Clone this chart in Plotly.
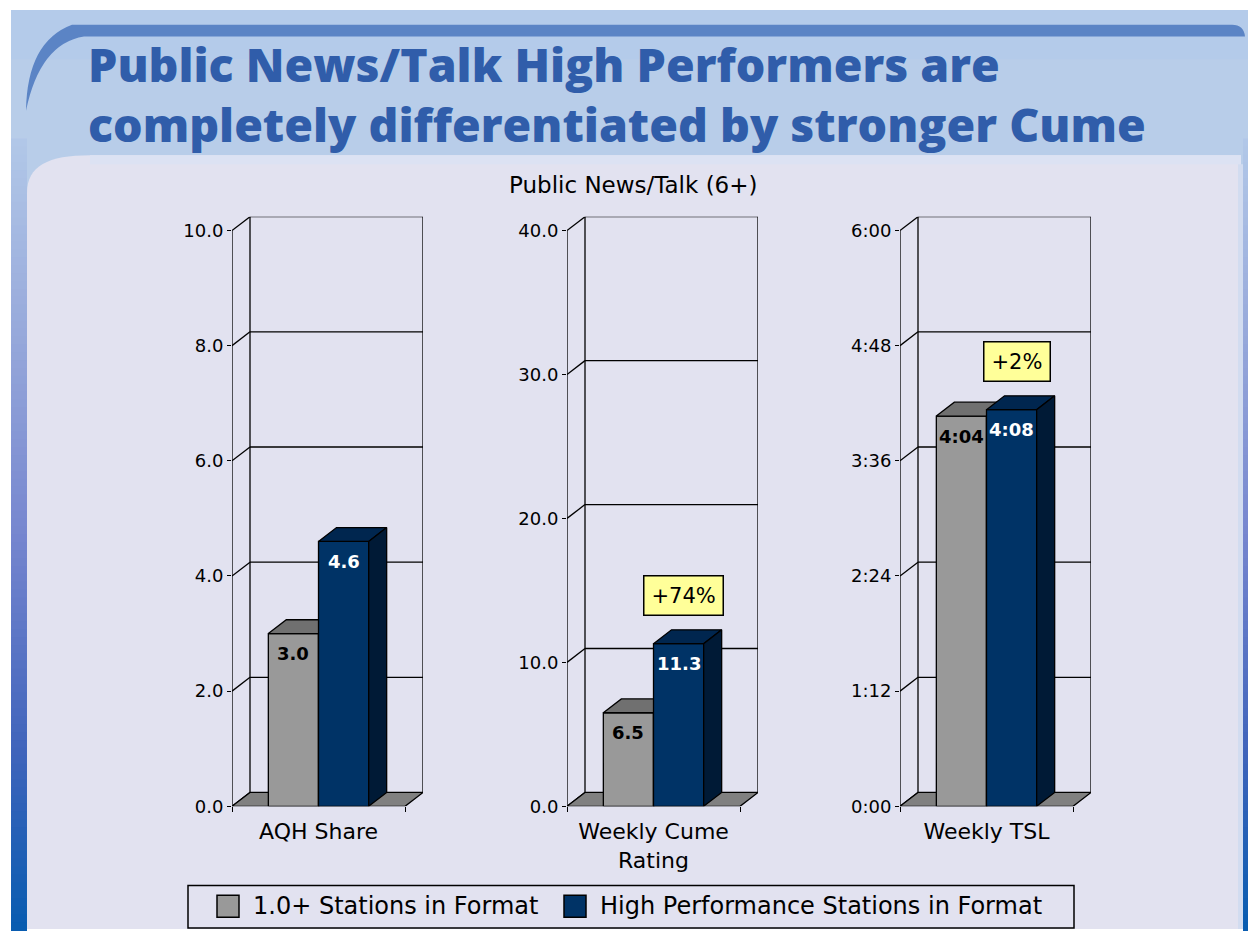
import plotly.graph_objects as go

# ---------------------------------------------------------------- data
CATEGORIES = ["AQH Share", "Weekly Cume<br>Rating", "Weekly TSL"]
SERIES = ["1.0+ Stations in Format", "High Performance Stations in Format"]

AQH_SHARE = [3.0, 4.6]
CUME_RATING = [6.5, 11.3]
TSL_MINUTES = [244, 248]          # 4:04 and 4:08

AQH_TICKS = [0, 2, 4, 6, 8, 10]
CUME_TICKS = [0, 10, 20, 30, 40]
TSL_TICKS = [0, 72, 144, 216, 288, 360]

LIFT_LABELS = [None, "+74%", "+2%"]

TITLE_LINES = ["Public News/Talk High Performers are",
               "completely differentiated by stronger Cume"]
SUBTITLE = "Public News/Talk (6+)"


def fmt_one_decimal(v):
    return f"{v:.1f}"


def fmt_hmm(minutes):
    return f"{int(minutes) // 60}:{int(minutes) % 60:02d}"


PANELS = [
    dict(values=AQH_SHARE, ticks=AQH_TICKS, fmt=fmt_one_decimal),
    dict(values=CUME_RATING, ticks=CUME_TICKS, fmt=fmt_one_decimal),
    dict(values=TSL_MINUTES, ticks=TSL_TICKS, fmt=fmt_hmm),
]

# ---------------------------------------------------------------- style
W, H = 1248, 939
TEXT_FONT = "DejaVu Sans"
TITLE_FONT = "Open Sans"
FRONT_COLORS = ["#999999", "#003366"]
TOP_COLORS = ["#707070", "#00264F"]
SIDE_COLORS = ["#505050", "#001A36"]
FLOOR_COLOR = "#808080"
CONTENT_BG = "#E2E2F0"
HEADER_BG = "#B8CDE9"
TITLE_COLOR = "#305DAA"
LINE_W = 1.3

AXIS_LEFT_PX = [232, 567, 900]    # front value-axis position of each panel
FLOOR_W_PX = 173                  # width of the front floor edge
DEPTH_PX = (18, 14)               # 3-D depth offset (right, up)
FLOOR_Y_PX = 815
TOP_TICK_Y_PX = 233
BAR_W = 0.29                      # in floor-width units


def px(x, y):
    return x / W, 1 - y / H


def pth(points):
    out = []
    for p in points:
        x, y = px(*p)
        out.append(f"{x:.5f},{y:.5f}")
    return " ".join(out)


def mix(c1, c2, t):
    a = [int(c1[i:i + 2], 16) for i in (1, 3, 5)]
    b = [int(c2[i:i + 2], 16) for i in (1, 3, 5)]
    return "#" + "".join(f"{round(a[k] + (b[k] - a[k]) * t):02X}" for k in range(3))


def gradient_color(stops, y):
    for (y0, c0), (y1, c1) in zip(stops, stops[1:]):
        if y0 <= y <= y1:
            return mix(c0, c1, (y - y0) / (y1 - y0))
    return stops[-1][1]


fig = go.Figure()
shapes = []
annotations = []


def rect(x0, y0, x1, y1, fill, line=None, lw=0):
    a = px(x0, y0)
    b = px(x1, y1)
    shapes.append(dict(type="rect", xref="paper", yref="paper", layer="below",
                       x0=a[0], y0=a[1], x1=b[0], y1=b[1], fillcolor=fill,
                       line=dict(color=line or fill, width=lw)))


def path_shape(d, fill):
    shapes.append(dict(type="path", xref="paper", yref="paper", layer="below",
                       path=d, fillcolor=fill, line=dict(width=0)))


# ---------------------------------------------------------------- slide background
rect(11, 10, W, H, HEADER_BG)
rect(11, 10, W, 60, "#B4CBEA")

# left and right edge bands fading from light blue into deep blue
strip_stops = [(140, "#B2C8E8"), (330, "#98AADB"), (540, "#7686CF"),
               (760, "#3F64BB"), (939, "#085CB0")]
step = 8
for y in range(140, H, step):
    c = gradient_color(strip_stops, y + step / 2)
    rect(11, y, 27, y + step + 1, c)
    rect(1243, y, W, y + step + 1, c)

# content panel with rounded upper-left corner
path_shape("M " + pth([(27, H)]) + " L " + pth([(27, 195)]) + " C " +
           pth([(27, 168), (48, 157), (90, 157)]) + " L " + pth([(1241, 157)]) +
           " L " + pth([(1241, H)]) + " Z", CONTENT_BG)
rect(90, 157, 1241, 166, "#DCE2F3")
rect(1238, 166, 1243, H, "#D2DCF0")

# header swoosh
path_shape("M " + pth([(72, 25)]) + " L " + pth([(1232, 25)]) + " Q " +
           pth([(1244, 25), (1245, 37)]) + " L " + pth([(84, 37)]) + " Q " +
           pth([(40, 44), (26, 112)]) + " Q " + pth([(27, 42), (72, 25)]) + " Z",
           "#5B84C5")

# ---------------------------------------------------------------- title texts
x, y = px(86, 95)
annotations.append(dict(text="<br>".join(TITLE_LINES), xref="paper", yref="paper",
                        x=x, y=y, xanchor="left", yanchor="middle", align="left",
                        showarrow=False,
                        font=dict(family=TITLE_FONT, size=46.5, color=TITLE_COLOR,
                                  weight=800)))

x, y = px(633, 187)
annotations.append(dict(text=SUBTITLE, xref="paper", yref="paper", x=x, y=y,
                        xanchor="center", yanchor="middle", showarrow=False,
                        font=dict(family=TEXT_FONT, size=23, color="black")))

# ---------------------------------------------------------------- 3-D bar panels
layout_axes = {}
dx = DEPTH_PX[0] / FLOOR_W_PX


def add_poly(xs, ys, fill, ax):
    fig.add_trace(go.Scatter(
        x=xs + [xs[0]], y=ys + [ys[0]], mode="lines", fill="toself",
        fillcolor=fill, line=dict(color="black", width=LINE_W),
        xaxis=ax[0], yaxis=ax[1], hoverinfo="skip", showlegend=False))


def add_lines(segments, ax):
    xs, ys = [], []
    for (x0, y0), (x1, y1) in segments:
        xs += [x0, x1, None]
        ys += [y0, y1, None]
    fig.add_trace(go.Scatter(
        x=xs, y=ys, mode="lines", line=dict(color="black", width=LINE_W),
        xaxis=ax[0], yaxis=ax[1], hoverinfo="skip", showlegend=False))


for i, panel in enumerate(PANELS):
    n = i + 2
    ax = (f"x{n}", f"y{n}")
    ticks = panel["ticks"]
    vmax = ticks[-1]
    unit_px = (FLOOR_Y_PX - TOP_TICK_Y_PX) / vmax
    dy = DEPTH_PX[1] / unit_px

    left = AXIS_LEFT_PX[i]
    right = left + FLOOR_W_PX + DEPTH_PX[0]
    top = TOP_TICK_Y_PX - DEPTH_PX[1]

    # back wall grid and frame
    segs = [((dx, v + dy), (1 + dx, v + dy)) for v in ticks[1:]]
    segs += [((dx, dy), (dx, vmax + dy)), ((1 + dx, dy), (1 + dx, vmax + dy))]
    # side wall connectors and front value axis
    segs += [((0, v), (dx, v + dy)) for v in ticks]
    segs += [((0, 0), (0, vmax))]
    add_lines(segs, ax)

    # floor
    add_poly([0, 1, 1 + dx, dx], [0, 0, dy, dy], FLOOR_COLOR, ax)

    # bars: front, top and side faces
    for s, v in enumerate(panel["values"]):
        x0 = 0.5 - BAR_W + s * BAR_W
        x1 = x0 + BAR_W
        add_poly([x0, x1, x1, x0], [0, 0, v, v], FRONT_COLORS[s], ax)
        add_poly([x0, x1, x1 + dx, x0 + dx], [v, v, v + dy, v + dy], TOP_COLORS[s], ax)
        add_poly([x1, x1 + dx, x1 + dx, x1], [0, dy, v + dy, v], SIDE_COLORS[s], ax)
        annotations.append(dict(
            text=f"<b>{panel['fmt'](v)}</b>", xref=ax[0], yref=ax[1],
            x=(x0 + x1) / 2, y=v, yshift=-20, xanchor="center", yanchor="middle",
            showarrow=False,
            font=dict(family=TEXT_FONT, size=18,
                      color="black" if s == 0 else "white")))

    lift = LIFT_LABELS[i]
    if lift:
        v = panel["values"][1]
        annotations.append(dict(
            text=lift, xref=ax[0], yref=ax[1], x=0.5 + BAR_W / 2, y=v,
            xshift=5, yshift=28, xanchor="center", yanchor="bottom",
            showarrow=False, bgcolor="#FFFF99", bordercolor="black",
            borderwidth=1.5, borderpad=7,
            font=dict(family=TEXT_FONT, size=21, color="black")))

    layout_axes[f"xaxis{n}"] = dict(
        domain=[left / W, right / W], range=[0, 1 + dx], anchor=ax[1],
        tickmode="array", tickvals=[0.5], ticktext=[CATEGORIES[i]], ticks="",
        minor=dict(tickmode="array", tickvals=[0, 1], ticks="outside",
                   ticklen=5, tickwidth=LINE_W, tickcolor="black", showgrid=False),
        showline=False, showgrid=False, zeroline=False, fixedrange=True,
        ticklabelstandoff=10,
        tickfont=dict(family=TEXT_FONT, size=22, color="black"))
    layout_axes[f"yaxis{n}"] = dict(
        domain=[(H - FLOOR_Y_PX) / H, (H - top) / H], range=[0, vmax + dy],
        anchor=ax[0], tickmode="array", tickvals=ticks,
        ticktext=[panel["fmt"](t) for t in ticks], ticks="outside", ticklen=4,
        tickwidth=LINE_W, tickcolor="black", showline=False, showgrid=False,
        zeroline=False, fixedrange=True,
        tickfont=dict(family=TEXT_FONT, size=18, color="black"))

# ---------------------------------------------------------------- legend box
rect(188, 895, 1074, 938, CONTENT_BG, "black", 1.5)
legend_items = [(217, 251), (564, 598)]
for s, (sx, tx) in enumerate(legend_items):
    rect(sx, 905, sx + 22, 927, FRONT_COLORS[s], "black", 1.5)
    x, y = px(tx, 916)
    annotations.append(dict(text=SERIES[s], xref="paper", yref="paper", x=x, y=y,
                            xanchor="left", yanchor="middle", showarrow=False,
                            font=dict(family=TEXT_FONT, size=24, color="black")))

fig.update_layout(
    width=W, height=H, autosize=False, margin=dict(l=0, r=0, t=0, b=0),
    paper_bgcolor="white", plot_bgcolor="rgba(0,0,0,0)",
    showlegend=False, shapes=shapes, annotations=annotations,
    **layout_axes)

fig.write_html("out.html", config={"responsive": False})
